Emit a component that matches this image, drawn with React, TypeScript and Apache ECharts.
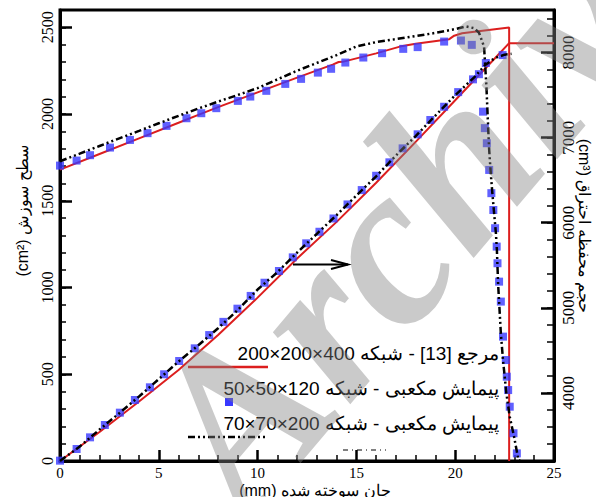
import React, { useEffect, useRef } from "react";
import * as echarts from "echarts";

// Reference solution [13] (200×200×400 grid): burning surface, cm² (left axis)
const refSurfaceWeb = [0, 2, 4, 6, 7, 8, 10, 12, 13.8, 14.1, 14.3, 16, 17.2, 18, 19.7, 19.95, 20.35, 22.73, 22.73];
const refSurfaceArea = [1680, 1770, 1860, 1950, 1995, 2040, 2125, 2210, 2285, 2300, 2301, 2350, 2389, 2405, 2432, 2452, 2466, 2499, 0];

// Reference solution [13]: chamber volume, cm³ (right axis)
const refVolumeWeb = [0, 2, 4, 6, 8, 10, 12, 14, 16, 18, 20, 22, 22.73, 25];
const refVolumeCm3 = [3200, 3540, 3900, 4270, 4680, 5120, 5580, 6010, 6470, 6950, 7440, 7930, 8110, 8110];

// Cubic marching, 50×50×120 grid: burning surface (squares)
const coarseSurfaceWeb = [0, 0.84, 1.52, 2.53, 3.54, 4.43, 5.39, 6.4, 7.15, 7.91, 9.0, 9.63, 10.44, 11.4, 12.2, 13.05, 13.72, 14.44, 15.35, 16.3, 17.37, 18.1, 19.44, 20.29, 20.84, 21.2, 21.41, 21.5, 21.6, 21.72, 21.83, 21.93, 22.02, 22.1, 22.14, 22.22, 22.31, 22.42, 22.56, 22.61, 22.68, 22.76, 22.95, 23.12];
const coarseSurfaceArea = [1703, 1732, 1763, 1807, 1851, 1890, 1932, 1976, 2005, 2034, 2076, 2101, 2134, 2174, 2203, 2239, 2261, 2297, 2326, 2351, 2376, 2386, 2418, 2424, 2399, 2230, 2014, 1919, 1832, 1678, 1544, 1447, 1342, 1236, 1140, 1034, 919, 717, 582, 486, 409, 313, 160, 44];

// Cubic marching, 50×50×120 grid: chamber volume (squares)
const coarseVolumeWeb = [0, 0.84, 1.52, 2.27, 3.03, 3.79, 4.55, 5.27, 6.03, 6.82, 7.55, 8.27, 8.98, 9.65, 10.35, 11.08, 11.78, 12.46, 13.13, 13.84, 14.55, 15.27, 16.0, 16.67, 17.34, 18.1, 18.74, 19.44, 20.15, 20.9, 21.55, 22.4];
const coarseVolumeCm3 = [3204, 3341, 3478, 3623, 3768, 3917, 4066, 4219, 4375, 4524, 4680, 4835, 4990, 5140, 5295, 5433, 5593, 5758, 5894, 6050, 6215, 6384, 6552, 6710, 6874, 7039, 7207, 7363, 7535, 7685, 7877, 7970];

// Cubic marching, 70×70×200 grid: burning surface (dash-dot)
const fineSurfaceWeb = [0, 1, 2, 3, 4, 5, 6, 7, 8, 9, 10, 11, 12, 13, 14, 15, 16, 17, 18, 19, 20, 20.55, 20.96, 21.2, 21.46, 21.52, 21.58, 21.63, 21.68, 21.72, 21.8, 21.88, 21.97, 22.06, 22.11, 22.17, 22.31, 22.42, 22.59, 22.76, 22.98, 23.2, 23.3];
const fineSurfaceArea = [1728, 1772, 1816, 1860, 1903, 1947, 1990, 2032, 2072, 2110, 2150, 2200, 2250, 2295, 2340, 2390, 2415, 2432, 2450, 2468, 2490, 2505, 2495, 2470, 2389, 2274, 2159, 2024, 1890, 1793, 1659, 1544, 1428, 1313, 1217, 1025, 736, 582, 390, 255, 140, 6, 0];

// Cubic marching, 70×70×200 grid: chamber volume (dash-dot)
const fineVolumeWeb = [0, 1, 2, 3, 4, 5, 6, 7, 8, 9, 10, 11, 12, 13, 14, 15, 16, 17, 18, 19, 20, 21, 21.5, 22, 22.5, 22.85];
const fineVolumeCm3 = [3200, 3370, 3570, 3762, 3958, 4162, 4369, 4560, 4760, 4975, 5215, 5418, 5650, 5870, 6090, 6320, 6545, 6790, 7018, 7260, 7498, 7718, 7850, 7935, 7975, 7985];

// Axis titles and legend entries (LRM keeps each Persian word in its own run)
const xTitle = "(mm) جان سوخته شده";
const leftTitle = "(cm²) سطح سوزش";
const rightTitle = "(cm³) حجم محفظه احتراق";
const legendLabels = [
  "200×200×400 شبکه\u200E - [13] مرجع",
  "50×50×120 شبکه\u200E - پیمایش مکعبی",
  "70×70×200 شبکه\u200E - پیمایش مکعبی",
];
const watermarkText = "Archive";

const RED = "#dc1e1e";
const BLUE = "#3838ff";
const DASH_DOT_DOT = [7, 3, 2, 3, 2, 3];

export default function App() {
  const ref = useRef<HTMLDivElement>(null);

  useEffect(() => {
    document.body.style.margin = "0";
    const chart = echarts.init(ref.current!, undefined, { renderer: "svg" });
    const pairs = (xs: number[], ys: number[]) => xs.map((x, i) => [x, ys[i]]);
    const serif = "Liberation Serif";
    const sans = "Liberation Sans";
    const plain = (v: number) => String(v);
    const majorTick = { color: "#000", width: 2.5 };
    const minorTick = { color: "#000", width: 1.5 };

    chart.setOption({
      animation: false,
      backgroundColor: "#fff",
      grid: { left: 60, right: 42, top: 10, bottom: 36, show: true, borderColor: "#000", borderWidth: 3 },
      xAxis: {
        type: "value",
        min: 0,
        max: 25,
        interval: 5,
        axisLine: { onZero: false, lineStyle: { color: "#000", width: 3 } },
        axisTick: { inside: true, length: 11, lineStyle: majorTick },
        minorTick: { show: true, splitNumber: 5, length: 6, lineStyle: minorTick },
        axisLabel: { color: "#000", fontFamily: serif, fontSize: 15, margin: 4, formatter: plain },
        splitLine: { show: false },
        minorSplitLine: { show: false },
      },
      yAxis: [
        {
          type: "value",
          position: "left",
          min: 0,
          max: 2600,
          interval: 500,
          axisLine: { show: true, lineStyle: { color: "#000", width: 3 } },
          axisTick: { show: true, inside: true, length: 12, lineStyle: majorTick },
          axisLabel: {
            rotate: 90,
            showMaxLabel: false,
            color: "#000",
            fontFamily: serif,
            fontSize: 16,
            margin: 5,
            formatter: plain,
          },
          splitLine: { show: false },
        },
        {
          type: "value",
          position: "left",
          min: 0,
          max: 2600,
          interval: 100,
          axisLine: { show: false },
          axisTick: { show: true, inside: true, length: 6, lineStyle: minorTick },
          axisLabel: { show: false },
          splitLine: { show: false },
        },
        {
          type: "value",
          position: "right",
          min: 3200,
          max: 8500,
          splitNumber: 5,
          axisLine: { show: true, lineStyle: { color: "#000", width: 3 } },
          axisTick: { show: true, inside: true, length: 13, lineStyle: majorTick },
          axisLabel: {
            rotate: 90,
            showMinLabel: false,
            showMaxLabel: false,
            color: "#000",
            fontFamily: serif,
            fontSize: 17,
            margin: 6,
            formatter: plain,
          },
          splitLine: { show: false },
        },
        {
          type: "value",
          position: "right",
          min: 3200,
          max: 8500,
          interval: 200,
          axisLine: { show: false },
          axisTick: { show: true, inside: true, length: 7, lineStyle: minorTick },
          axisLabel: { show: false },
          splitLine: { show: false },
        },
      ],
      series: [
        {
          type: "line",
          yAxisIndex: 0,
          data: pairs(refSurfaceWeb, refSurfaceArea),
          symbol: "none",
          lineStyle: { color: RED, width: 2 },
          z: 2,
        },
        {
          type: "line",
          yAxisIndex: 2,
          data: pairs(refVolumeWeb, refVolumeCm3),
          symbol: "none",
          lineStyle: { color: RED, width: 2 },
          z: 2,
        },
        {
          type: "scatter",
          yAxisIndex: 0,
          data: pairs(coarseSurfaceWeb, coarseSurfaceArea),
          symbol: "rect",
          symbolSize: 8,
          itemStyle: { color: BLUE },
          z: 3,
        },
        {
          type: "scatter",
          yAxisIndex: 2,
          data: pairs(coarseVolumeWeb, coarseVolumeCm3),
          symbol: "rect",
          symbolSize: 8,
          itemStyle: { color: BLUE },
          z: 3,
        },
        {
          type: "line",
          yAxisIndex: 0,
          data: pairs(fineSurfaceWeb, fineSurfaceArea),
          symbol: "none",
          lineStyle: { color: "#000", width: 2.5, type: DASH_DOT_DOT },
          z: 4,
        },
        {
          type: "line",
          yAxisIndex: 2,
          data: pairs(fineVolumeWeb, fineVolumeCm3),
          symbol: "none",
          lineStyle: { color: "#000", width: 2.5, type: DASH_DOT_DOT },
          z: 4,
        },
      ],
      graphic: [
        // axis titles
        {
          type: "text",
          x: 22,
          y: 211,
          rotation: Math.PI / 2,
          style: { text: leftTitle, fontSize: 16, fontFamily: sans, fill: "#000", align: "center", verticalAlign: "middle" },
        },
        {
          type: "text",
          x: 584,
          y: 226,
          rotation: -Math.PI / 2,
          style: { text: rightTitle, fontSize: 16, fontFamily: sans, fill: "#000", align: "center", verticalAlign: "middle" },
        },
        {
          type: "text",
          x: 315,
          y: 490,
          style: { text: xTitle, fontSize: 16, fontFamily: sans, fill: "#000", align: "center", verticalAlign: "middle" },
        },
        // legend
        {
          type: "text",
          x: 499,
          y: 353,
          z: 20,
          style: { text: legendLabels[0], fontSize: 19, fontFamily: sans, fill: "#000", align: "right", verticalAlign: "middle" },
        },
        {
          type: "text",
          x: 499,
          y: 388,
          z: 20,
          style: { text: legendLabels[1], fontSize: 19, fontFamily: sans, fill: "#000", align: "right", verticalAlign: "middle" },
        },
        {
          type: "text",
          x: 499,
          y: 423,
          z: 20,
          style: { text: legendLabels[2], fontSize: 19, fontFamily: sans, fill: "#000", align: "right", verticalAlign: "middle" },
        },
        { type: "line", z: 20, shape: { x1: 188, y1: 367, x2: 268, y2: 367 }, style: { stroke: RED, lineWidth: 2.5 } },
        { type: "rect", z: 20, shape: { x: 225, y: 398, width: 8, height: 8 }, style: { fill: BLUE } },
        {
          type: "line",
          z: 20,
          shape: { x1: 188, y1: 437, x2: 268, y2: 437 },
          style: { stroke: "#000", lineWidth: 2.5, lineDash: DASH_DOT_DOT },
        },
        {
          type: "line",
          z: 20,
          shape: { x1: 343, y1: 450, x2: 386, y2: 450 },
          style: { stroke: "#000", lineWidth: 1, lineDash: [5, 4, 1, 4] },
        },
        // arrow pointing to the volume axis
        { type: "line", z: 20, shape: { x1: 293, y1: 264.5, x2: 348, y2: 264.5 }, style: { stroke: "#000", lineWidth: 2 } },
        {
          type: "polyline",
          z: 20,
          shape: { points: [[331, 260], [348, 264.5], [331, 269]] },
          style: { stroke: "#000", lineWidth: 2, fill: "none" },
        },
        // watermark
        {
          type: "text",
          z: 100,
          x: 428,
          y: 192,
          rotation: 0.87,
          silent: true,
          style: {
            text: watermarkText,
            fontSize: 230,
            fontFamily: serif,
            fontWeight: "bold",
            fontStyle: "italic",
            fill: "rgba(128,128,128,0.42)",
            align: "center",
            verticalAlign: "middle",
          },
        },
      ],
    });

    return () => chart.dispose();
  }, []);

  return <div ref={ref} style={{ width: 596, height: 497 }} />;
}
